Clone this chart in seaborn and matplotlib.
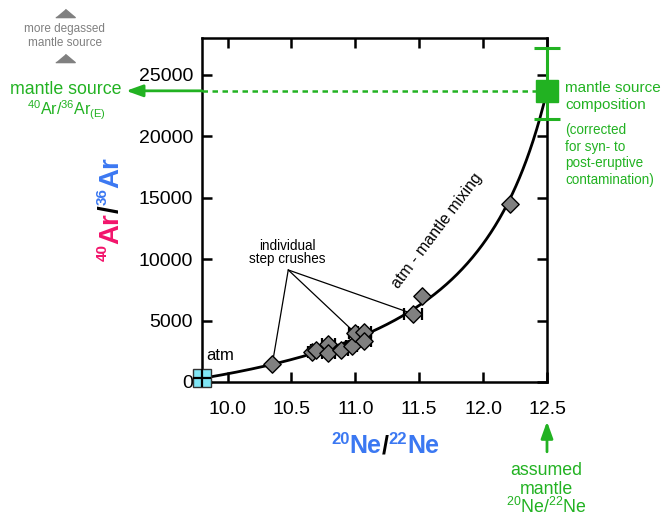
import numpy as np
import matplotlib
matplotlib.use("Agg")
import matplotlib.pyplot as plt
import seaborn as sns
from matplotlib.transforms import IdentityTransform
from matplotlib.lines import Line2D

sns.set_theme(style="white")
plt.rcParams["font.family"] = ["Liberation Sans", "DejaVu Sans"]
plt.rcParams["mathtext.fontset"] = "custom"
plt.rcParams["mathtext.rm"] = "Liberation Sans"
plt.rcParams["mathtext.it"] = "Liberation Sans:italic"
plt.rcParams["mathtext.bf"] = "Liberation Sans:bold"

# ---------------- data ----------------
ne_ratio = [10.35, 10.66, 10.69, 10.79, 10.79, 10.89, 10.97, 11.00, 11.07, 11.07, 11.45, 11.52, 12.21]
ar_ratio = [1450, 2480, 2620, 3100, 2350, 2620, 2890, 3980, 4060, 3350, 5550, 7000, 14460]
ne_err = [0, 0.03, 0.04, 0.05, 0.05, 0.05, 0.04, 0.05, 0.05, 0.05, 0.07, 0, 0]
atm_ne, atm_ar = 9.8, 298.6
mantle_ne, mantle_ar = 12.5, 23700
mantle_ar_low, mantle_ar_high = 21400, 27150
mix_curvature = 5.0          # (36Ar/22Ne)atm / (36Ar/22Ne)mantle
labelled_steps = [0, 7, 10]
xticks = [10.0, 10.5, 11.0, 11.5, 12.0, 12.5]
yticks = [0, 5000, 10000, 15000, 20000, 25000]

GREEN = "#22b222"
PINK = "#f2146b"
BLUE = "#3b78f2"
GRAY = "#808080"

W, H = 661, 521
fig = plt.figure(figsize=(W / 100, H / 100), dpi=100)
ax = fig.add_axes([202 / W, 1 - 382 / H, (547 - 202) / W, (382 - 38) / H])
ax.set_xlim(9.8, 12.5)
ax.set_ylim(0, 28000)
ax.set_xticks(xticks)
ax.set_xticklabels([f"{v:.1f}" for v in xticks])
ax.set_yticks(yticks)
ax.set_yticklabels([str(v) for v in yticks])
for s in ax.spines.values():
    s.set_color("black")
    s.set_linewidth(1.8)
ax.tick_params(direction="in", length=7, width=1.8, top=True, right=True,
               labelsize=14, colors="black", bottom=True, left=True)
ax.tick_params(axis="x", pad=13.5)
ax.tick_params(axis="y", pad=6.5)
ax.set_xlabel("")
ax.set_ylabel("")

# mixing hyperbola
g = np.linspace(0, 1, 400)
h = g * mix_curvature / (g * mix_curvature + (1 - g))
cx = g * atm_ne + (1 - g) * mantle_ne
cy = h * atm_ar + (1 - h) * mantle_ar
sns.lineplot(x=cx, y=cy, sort=False, estimator=None, color="black", lw=2.0, ax=ax, zorder=3)

# leader lines for "individual step crushes"
lab_x, lab_y = 10.475, 9120
for i in labelled_steps:
    ax.plot([lab_x, ne_ratio[i]], [lab_y, ar_ratio[i]], color="black", lw=0.9, zorder=2)

# error bars on step crushes
ax.errorbar(ne_ratio, ar_ratio, xerr=ne_err, fmt="none", ecolor="black",
            elinewidth=1.2, capsize=4, capthick=1.6, zorder=4)

# diamonds
sns.scatterplot(x=ne_ratio, y=ar_ratio, marker="D", s=78, color=GRAY,
                edgecolor="black", linewidth=1.0, zorder=5, ax=ax, legend=False)

# atm square
ax.plot([atm_ne], [atm_ar], marker="s", ms=12.5, mfc="#80e6f5", mec="#333333",
        mew=1.0, clip_on=False, zorder=6)
ax.plot([atm_ne], [atm_ar], marker="+", ms=12.5, color="black", mew=1.6,
        clip_on=False, zorder=7)

# mantle source dashed line
ax.plot([atm_ne, mantle_ne], [mantle_ar, mantle_ar], color=GREEN, lw=1.8,
        ls=(0, (2.2, 1.8)), zorder=3)
ax.annotate("", xy=(9.206, mantle_ar), xytext=(atm_ne, mantle_ar),
            arrowprops=dict(arrowstyle="-|>,head_length=1.0,head_width=0.36",
                            color=GREEN, lw=2.0, shrinkA=0, shrinkB=0,
                            mutation_scale=10),
            annotation_clip=False)

# mantle source composition
eb = ax.errorbar([mantle_ne], [mantle_ar],
                 yerr=[[mantle_ar - mantle_ar_low], [mantle_ar_high - mantle_ar]],
                 fmt="none", ecolor=GREEN, elinewidth=2.2, capsize=9.4, capthick=2.2,
                 zorder=6)
for art in eb.get_children():
    art.set_clip_on(False)
ax.plot([mantle_ne], [mantle_ar], marker="s", ms=16, color=GREEN, clip_on=False, zorder=7)

# assumed mantle arrow (below axis)
ax.annotate("", xy=(mantle_ne, -3210), xytext=(mantle_ne, -5680),
            arrowprops=dict(arrowstyle="-|>,head_length=1.0,head_width=0.36",
                            color=GREEN, lw=2.0, shrinkA=0, shrinkB=0,
                            mutation_scale=10),
            annotation_clip=False)


def P(x, y):
    return x / W, 1 - y / H


# texts in axes region
fig.text(*P(206, 360), "atm", fontsize=12, color="black", ha="left", va="baseline")
fig.text(*P(287, 249.5), "individual", fontsize=9.75, color="black", ha="center", va="baseline")
fig.text(*P(287, 263), "step crushes", fontsize=9.75, color="black", ha="center", va="baseline")
fig.text(*P(437, 231), "atm - mantle mixing", fontsize=11.5, color="black",
         ha="center", va="center", rotation=53, rotation_mode="anchor")

# left annotations
fig.text(*P(66, 94), "mantle source", fontsize=12.75, color=GREEN, ha="center", va="baseline")
fig.text(*P(66, 115), r"$^{40}$Ar/$^{36}$Ar$_{\rm (E)}$", fontsize=11.5, color=GREEN,
         ha="center", va="baseline")
fig.text(*P(64.5, 32), "more degassed", fontsize=8.5, color=GRAY, ha="center", va="baseline")
fig.text(*P(64.5, 46), "mantle source", fontsize=8.5, color=GRAY, ha="center", va="baseline")
tri = [(-1, -0.42), (1, -0.42), (0, 0.42)]
for ty in (13, 58):
    fig.add_artist(Line2D([64.5 / W], [1 - ty / H], marker=tri, ms=14, color=GRAY,
                          lw=0, transform=fig.transFigure))

# right annotations
fig.text(*P(565, 91.5), "mantle source", fontsize=11, color=GREEN, ha="left", va="baseline")
fig.text(*P(565, 108.5), "composition", fontsize=11, color=GREEN, ha="left", va="baseline")
for i, line in enumerate(["(corrected", "for syn- to", "post-eruptive", "contamination)"]):
    fig.text(*P(565, 134 + 16.7 * i), line, fontsize=9.75, color=GREEN, ha="left", va="baseline")

# bottom right
fig.text(*P(546, 475), "assumed", fontsize=12.75, color=GREEN, ha="center", va="baseline")
fig.text(*P(546, 494), "mantle", fontsize=12.75, color=GREEN, ha="center", va="baseline")
fig.text(*P(546, 513), r"$^{20}$Ne/$^{22}$Ne", fontsize=12.75, color=GREEN, ha="center", va="baseline")

# multi-colour axis labels
renderer = fig.canvas.get_renderer()


def rainbow(x0, y0, pieces, rotation=0):
    items = []
    total = 0
    for s, col, size, shift in pieces:
        t = fig.text(0, 0, s, color=col, fontsize=size, fontweight="bold",
                     transform=IdentityTransform(), ha="left", va="baseline",
                     rotation=rotation, rotation_mode="anchor")
        bb = t.get_window_extent(renderer=renderer)
        L = bb.width if rotation == 0 else bb.height
        items.append((t, L, shift))
        total += L
    pos = -total / 2
    for t, L, shift in items:
        if rotation == 0:
            t.set_position((x0 + pos, (H - y0) + shift))
        else:
            t.set_position((x0 - shift, (H - y0) + pos))
        pos += L


rainbow(385, 453, [("20", BLUE, 12, 9), ("Ne", BLUE, 18, 0), ("/", "black", 18, 0),
                   ("22", BLUE, 12, 9), ("Ne", BLUE, 18, 0)])
rainbow(118, 209, [("40", PINK, 11, 11), ("Ar", PINK, 20, 0), ("/", "black", 20, 0),
                   ("36", BLUE, 11, 11), ("Ar", BLUE, 20, 0)], rotation=90)

fig.savefig("out.png", dpi=100)
